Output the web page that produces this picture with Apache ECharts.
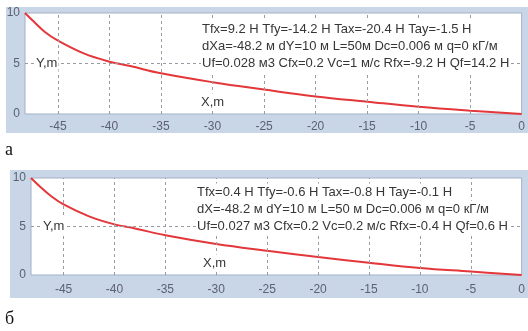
<!DOCTYPE html>
<html><head><meta charset="utf-8">
<script src="https://cdn.jsdelivr.net/npm/echarts@6/dist/echarts.min.js"></script>
<style>html,body{margin:0;padding:0;background:#fff}#c{width:528px;height:331px}</style>
</head><body><div id="c"></div>
<script>
// ---- data ----
const xValues = [-48.2, -47.3, -46.3, -45, -42.5, -40, -38, -35, -30, -25, -20, -15, -10, -5, 0];
const yTop    = [10, 9.1, 8.15, 7.26, 6.0, 5.18, 4.75, 4.03, 3.15, 2.42, 1.74, 1.22, 0.72, 0.33, 0];
const yBottom = [10, 9.1, 8.2, 7.27, 6.05, 5.22, 4.8, 4.1, 3.2, 2.5, 1.85, 1.26, 0.72, 0.36, 0];
const xTickLabels = [-45, -40, -35, -30, -25, -20, -15, -10, -5, 0];
const xGridValues = [-45, -40, -35, -30, -25, -20, -15, -10, -5];
const yGridValues = [5];
const textTop = [
  'Tfx=9.2 Н Tfy=-14.2 Н Tax=-20.4 Н Tay=-1.5 Н',
  'dXa=-48.2 м dY=10 м L=50м Dc=0.006 м q=0 кГ/м',
  'Uf=0.028 м3 Cfx=0.2 Vc=1 м/с Rfx=-9.2 Н Qf=14.2 Н'
];
const textBottom = [
  'Tfx=0.4 Н Tfy=-0.6 Н Tax=-0.8 Н Tay=-0.1 Н',
  'dX=-48.2 м dY=10 м L=50 м Dc=0.006 м q=0 кГ/м',
  'Uf=0.027 м3 Cfx=0.2 Vc=0.2 м/с Rfx=-0.4 Н Qf=0.6 Н'
];
const panelLabels = ['а', 'б'];
const axisNameX = 'X,m', axisNameY = 'Y,m';

// ---- chart ----
const chart = echarts.init(document.getElementById('c'), null, {renderer: 'canvas'});
const font = '"Liberation Sans", Arial, sans-serif';
const gridStyle = {show: true, backgroundColor: '#ffffff', borderColor: '#a3b1c6', borderWidth: 1};
function xAx(gi, margin) {
  return {type: 'value', gridIndex: gi, min: -48.2, max: 0,
    axisLine: {show: false}, axisTick: {show: false}, splitLine: {show: false},
    axisLabel: {customValues: xTickLabels, color: '#5b6272', fontSize: 12, fontFamily: font, margin: margin}};
}
function yAx(gi) {
  return {type: 'value', gridIndex: gi, min: 0, max: 10, interval: 5,
    axisLine: {show: false}, axisTick: {show: false}, splitLine: {show: false},
    axisLabel: {color: '#5b6272', fontSize: 12, fontFamily: font, margin: 5}};
}
function ser(i, ys) {
  return {type: 'line', xAxisIndex: i, yAxisIndex: i, showSymbol: false, smooth: 0.4,
    data: xValues.map((x, k) => [x, ys[k]]),
    lineStyle: {color: '#e3373a', width: 2}, z: 3,
    markLine: {silent: true, symbol: ['none', 'none'], label: {show: false}, animation: false,
      lineStyle: {color: '#969ba4', type: [3, 3], width: 1},
      data: xGridValues.map(v => ({xAxis: v})).concat(yGridValues.map(v => ({yAxis: v})))}};
}
function txt(s, x, y, size, extra) {
  return {type: 'text', z: 100, style: Object.assign({text: s, x: x, y: y,
    font: size + 'px ' + font, fill: '#363636', verticalAlign: 'middle',
    backgroundColor: '#ffffff', padding: [2, 1]}, extra || {})};
}
const graphics = [
  {type: 'rect', z: -100, shape: {x: 6, y: 7, width: 522, height: 126}, style: {fill: '#c9d6e8'}},
  {type: 'rect', z: -100, shape: {x: 10, y: 170, width: 518, height: 128}, style: {fill: '#c9d6e8'}},
  txt(panelLabels[0], 4, 150, 18, {font: '18px "Liberation Serif", serif', fill: '#111', backgroundColor: null}),
  txt(panelLabels[1], 4, 319, 18, {font: '18px "Liberation Serif", serif', fill: '#111', backgroundColor: null}),
  txt(axisNameY, 35, 63.5, 13),
  txt(axisNameX, 200, 102, 13),
  txt(axisNameY, 42, 226.5, 13),
  txt(axisNameX, 202, 263, 13)
];
textTop.forEach((s, i) => graphics.push(txt(s, 201, 29 + i * 17.2, 13)));
textBottom.forEach((s, i) => graphics.push(txt(s, 196, 192 + i * 17.2, 13)));

chart.setOption({
  animation: false,
  grid: [
    Object.assign({left: 25, top: 13, width: 499, height: 101}, gridStyle),
    Object.assign({left: 31, top: 178, width: 495, height: 97}, gridStyle)
  ],
  xAxis: [xAx(0, 7), xAx(1, 9)],
  yAxis: [yAx(0), yAx(1)],
  series: [ser(0, yTop), ser(1, yBottom)],
  graphic: graphics
});
</script></body></html>
